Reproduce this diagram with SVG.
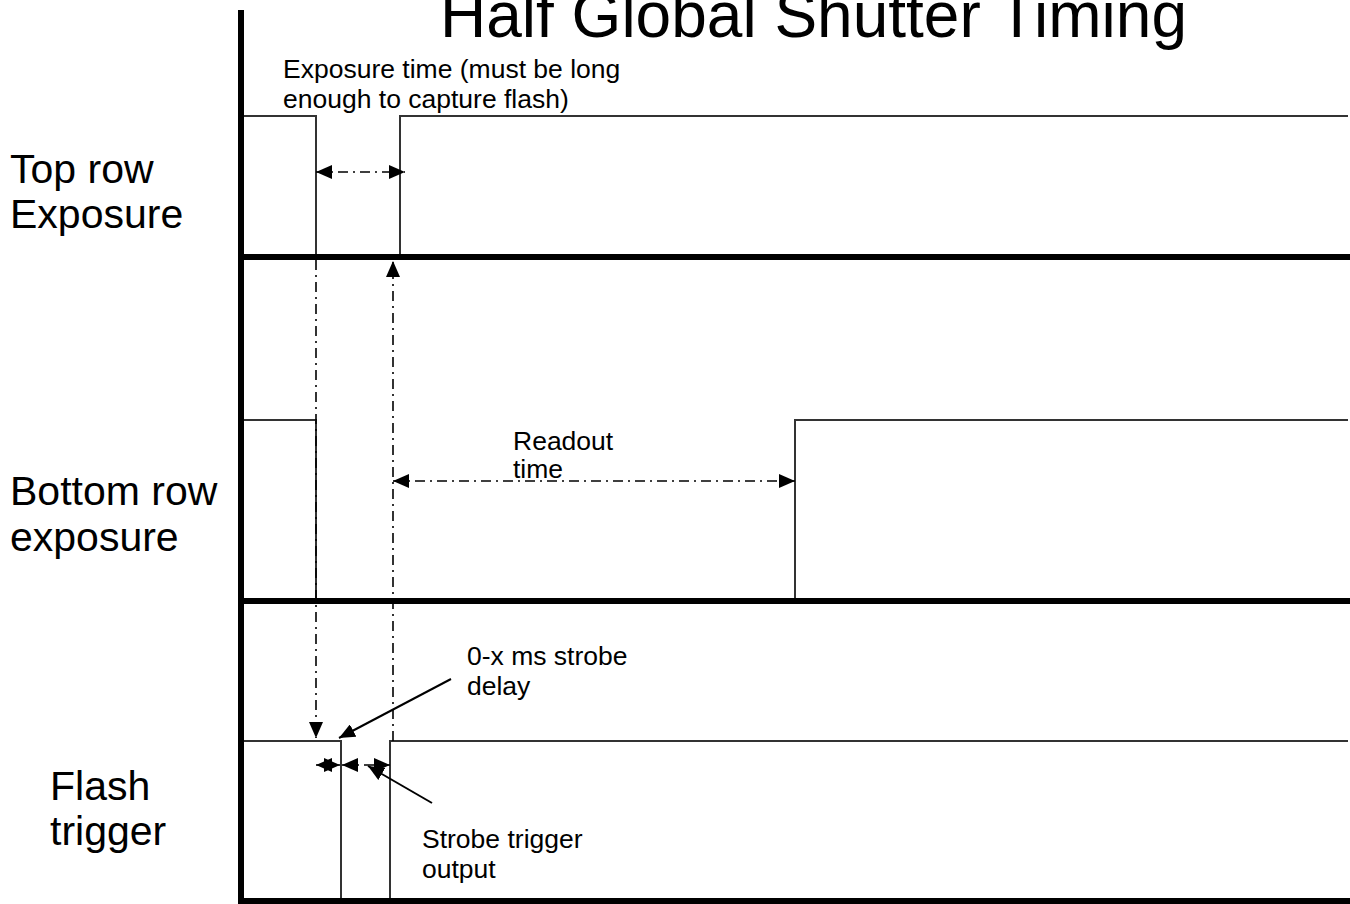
<svg xmlns="http://www.w3.org/2000/svg" width="1350" height="904" viewBox="0 0 1350 904">
<style>
text{font-family:"Liberation Sans",Arial,sans-serif;fill:#000}
.big{font-size:41px}
.sm{font-size:26.5px}
.title{font-size:64px}
.sig{fill:none;stroke:#333;stroke-width:2}
.axis{stroke:#000;stroke-width:6;fill:none}
.dd{fill:none;stroke:#000;stroke-width:1.6;stroke-dasharray:10 5 2 5}
.ann{fill:none;stroke:#000;stroke-width:2}
</style>
<defs>
<marker id="ah" viewBox="0 0 16 14" refX="16" refY="7" markerWidth="16" markerHeight="14" markerUnits="userSpaceOnUse" orient="auto-start-reverse"><path d="M0,0 L16,7 L0,14 z" fill="#000"/></marker>
</defs>
<rect width="1350" height="904" fill="#fff"/>
<text class="title" x="440" y="37">Half Global Shutter Timing</text>
<g id="signals">
<polyline class="sig" points="244,116 316,116 316,256"/>
<polyline class="sig" points="400,256 400,116 1348,116"/>
<polyline class="sig" points="244,420 316,420 316,600"/>
<polyline class="sig" points="795,600 795,420 1348,420"/>
<polyline class="sig" points="244,741 341,741 341,900"/>
<polyline class="sig" points="390,900 390,741 1348,741"/>
</g>
<g id="axes">
<line class="axis" x1="241" y1="10" x2="241" y2="904"/>
<line class="axis" x1="238" y1="257" x2="1350" y2="257"/>
<line class="axis" x1="238" y1="601" x2="1350" y2="601"/>
<line class="axis" x1="238" y1="901" x2="1350" y2="901" stroke-width="5"/>
</g>
<g id="connectors">
<line class="dd" x1="316" y1="172" x2="405" y2="172" marker-start="url(#ah)" marker-end="url(#ah)"/>
<line class="dd" x1="316" y1="260" x2="316" y2="738" marker-end="url(#ah)"/>
<line class="dd" x1="393" y1="741" x2="393" y2="261" marker-end="url(#ah)"/>
<line class="dd" x1="393" y1="481" x2="795" y2="481" marker-start="url(#ah)" marker-end="url(#ah)"/>
<line class="dd" x1="316" y1="765" x2="340" y2="765" marker-start="url(#ah)" marker-end="url(#ah)"/>
<line class="dd" x1="342" y1="765" x2="390" y2="765" marker-start="url(#ah)" marker-end="url(#ah)"/>
<line class="ann" x1="451" y1="679" x2="339" y2="738" marker-end="url(#ah)"/>
<line class="ann" x1="432" y1="803" x2="368" y2="766" marker-end="url(#ah)"/>
</g>
<g id="label-top"><text class="big" x="10" y="183">Top row</text><text class="big" x="10" y="228">Exposure</text></g>
<g id="label-bottom"><text class="big" x="10" y="505">Bottom row</text><text class="big" x="10" y="551">exposure</text></g>
<g id="label-flash"><text class="big" x="50" y="800">Flash</text><text class="big" x="50" y="845">trigger</text></g>
<g id="note-exposure"><text class="sm" x="283" y="78">Exposure time (must be long</text><text class="sm" x="283" y="108">enough to capture flash)</text></g>
<g id="note-readout"><text class="sm" x="513" y="450">Readout</text><text class="sm" x="513" y="478">time</text></g>
<g id="note-delay"><text class="sm" x="467" y="665">0-x ms strobe</text><text class="sm" x="467" y="695">delay</text></g>
<g id="note-output"><text class="sm" x="422" y="848">Strobe trigger</text><text class="sm" x="422" y="878">output</text></g>
</svg>
